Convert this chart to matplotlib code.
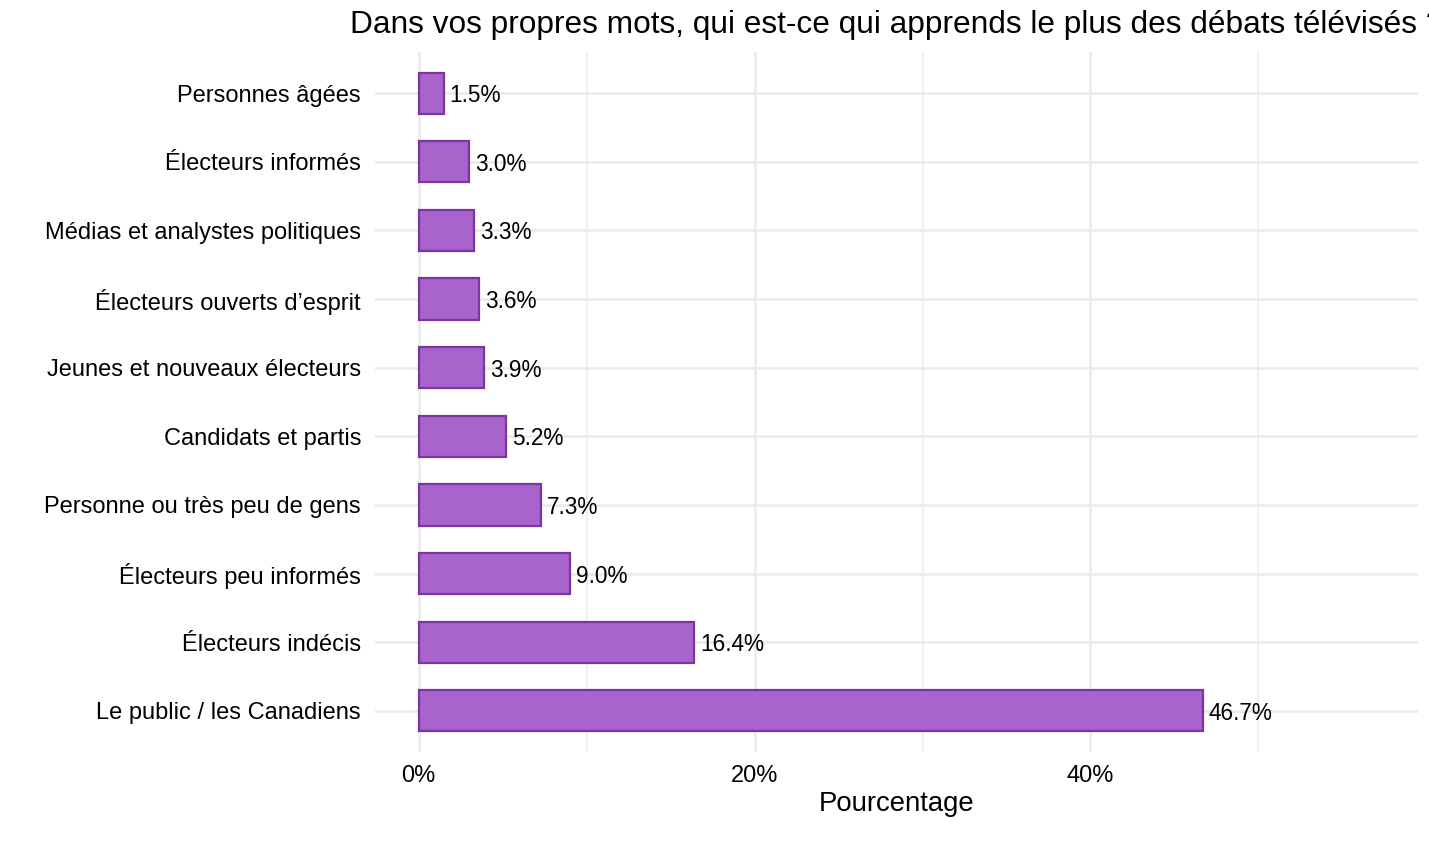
import matplotlib.pyplot as plt
import numpy as np

plt.rcParams['font.family'] = ['Liberation Sans', 'DejaVu Sans']

categories = [
    "Le public / les Canadiens",
    "Électeurs indécis",
    "Électeurs peu informés",
    "Personne ou très peu de gens",
    "Candidats et partis",
    "Jeunes et nouveaux électeurs",
    "Électeurs ouverts d\u2019esprit",
    "Médias et analystes politiques",
    "Électeurs informés",
    "Personnes âgées",
]
values = [46.7, 16.4, 9.0, 7.3, 5.2, 3.9, 3.6, 3.3, 3.0, 1.5]
xticks = [0, 20, 40]
xtick_labels = ["0%", "20%", "40%"]

fig = plt.figure(figsize=(14.29, 8.57), dpi=100)
ax = fig.add_axes([375 / 1429, 1 - 752 / 857, (1418 - 375) / 1429, (752 - 52) / 857])

y = np.arange(len(categories))
ax.barh(y, values, height=0.6, color='#A963CC', edgecolor='#7B35A0', linewidth=1.6, zorder=3)

for yi, v in zip(y, values):
    ax.text(v + 0.35, yi, f"{v:.1f}%", va='center_baseline', ha='left', fontsize=16.3, zorder=4)

ax.set_xlim(-2.6, 59.5)
ax.set_ylim(-0.6, len(categories) - 0.4)
ax.set_yticks(y)
ax.set_yticklabels(categories, fontsize=17)
ax.set_xticks(xticks)
ax.set_xticklabels(xtick_labels, fontsize=17)
ax.set_xticks([10, 30, 50], minor=True)

ax.grid(True, which='major', color='#EBEBEB', linewidth=2, zorder=0)
ax.grid(True, which='minor', axis='x', color='#F0F0F0', linewidth=1.4, zorder=0)
ax.tick_params(axis='both', which='both', length=0)
ax.tick_params(axis='y', pad=10)
ax.tick_params(axis='x', pad=9)
for s in ax.spines.values():
    s.set_visible(False)

ax.set_xlabel("Pourcentage", fontsize=19.8, labelpad=3)
# title runs past the right edge, as in the original
ax.set_title("Dans vos propres mots, qui est-ce qui apprends le plus des débats télévisés ?",
             fontsize=22.8, pad=13.5)

fig.savefig("out.png", dpi=100)
